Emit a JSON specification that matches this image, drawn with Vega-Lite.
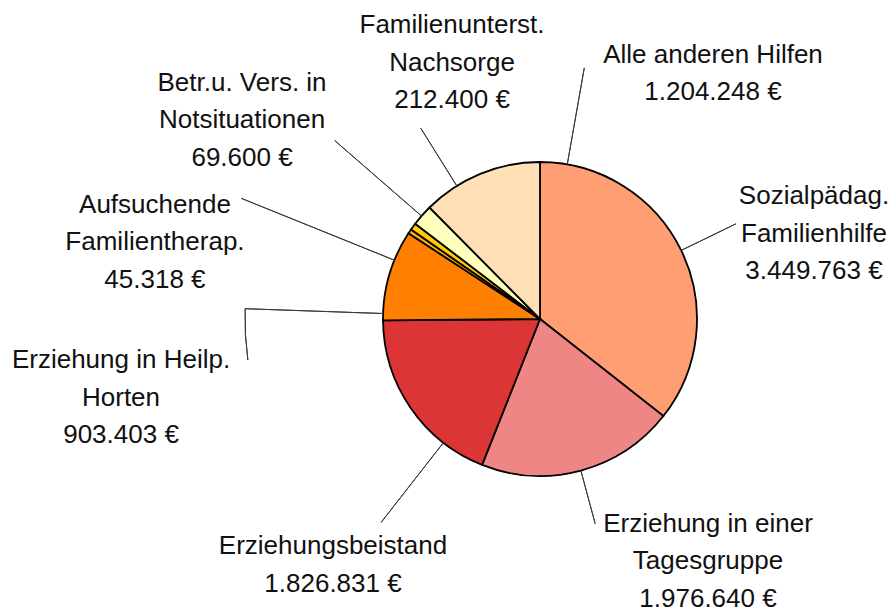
{
  "$schema": "https://vega.github.io/schema/vega-lite/v6.json",
  "width": 704,
  "height": 586,
  "autosize": {"type": "none"},
  "padding": {"left": 188, "top": 26, "right": 0, "bottom": 0},
  "background": "white",
  "config": {"view": {"stroke": null}},
  "data": {
    "values": [
      {"name": "Sozialpädag. Familienhilfe", "label": "Sozialpädag.\nFamilienhilfe\n3.449.763 €", "value": 3449763},
      {"name": "Erziehung in einer Tagesgruppe", "label": "Erziehung in einer\nTagesgruppe\n1.976.640 €", "value": 1976640},
      {"name": "Erziehungsbeistand", "label": "Erziehungsbeistand\n1.826.831 €", "value": 1826831},
      {"name": "Erziehung in Heilp. Horten", "label": "Erziehung in Heilp.\nHorten\n903.403 €", "value": 903403},
      {"name": "Aufsuchende Familientherap.", "label": "Aufsuchende\nFamilientherap.\n45.318 €", "value": 45318},
      {"name": "Betr.u. Vers. in Notsituationen", "label": "Betr.u. Vers. in\nNotsituationen\n69.600 €", "value": 69600},
      {"name": "Familienunterst. Nachsorge", "label": "Familienunterst.\nNachsorge\n212.400 €", "value": 212400},
      {"name": "Alle anderen Hilfen", "label": "Alle anderen Hilfen\n1.204.248  €", "value": 1204248}
    ]
  },
  "transform": [
    {"window": [{"op": "row_number", "as": "idx"}]},
    {"stack": "value", "groupby": [], "sort": [{"field": "idx", "order": "ascending"}], "as": ["v0", "v1"]}
  ],
  "layer": [
    {
      "mark": {"type": "arc", "outerRadius": 157, "stroke": "#000000", "strokeWidth": 1.8},
      "encoding": {
        "theta": {"field": "v1", "type": "quantitative", "stack": null, "scale": {"nice": false, "zero": true}},
        "theta2": {"field": "v0"},
        "color": {
          "field": "name", "type": "nominal", "legend": null,
          "scale": {
            "domain": ["Sozialpädag. Familienhilfe", "Erziehung in einer Tagesgruppe", "Erziehungsbeistand", "Erziehung in Heilp. Horten", "Aufsuchende Familientherap.", "Betr.u. Vers. in Notsituationen", "Familienunterst. Nachsorge", "Alle anderen Hilfen"],
            "range": ["#FF9E73", "#EF8686", "#DC3535", "#FF8000", "#FFB000", "#FFCC00", "#FFFFBE", "#FFDFB5"]
          }
        }
      }
    },
    {
      "transform": [{"filter": {"field": "name", "equal": "Sozialpädag. Familienhilfe"}}],
      "mark": {"type": "arc", "innerRadius": 157, "outerRadius": 218, "thetaOffset": 1.1186, "theta2Offset": 1.1186, "stroke": "#3a3a3a", "strokeWidth": 1, "fill": "transparent"},
      "encoding": {"theta": {"field": "v0", "type": "quantitative", "stack": null}, "theta2": {"field": "v0"}}
    },
    {
      "transform": [{"filter": {"field": "name", "equal": "Erziehung in einer Tagesgruppe"}}],
      "mark": {"type": "arc", "innerRadius": 157, "outerRadius": 212, "thetaOffset": 0.6409, "theta2Offset": 0.6409, "stroke": "#3a3a3a", "strokeWidth": 1, "fill": "transparent"},
      "encoding": {"theta": {"field": "v0", "type": "quantitative", "stack": null}, "theta2": {"field": "v0"}}
    },
    {
      "transform": [{"filter": {"field": "name", "equal": "Erziehungsbeistand"}}],
      "mark": {"type": "arc", "innerRadius": 157, "outerRadius": 258, "thetaOffset": 0.2855, "theta2Offset": 0.2855, "stroke": "#3a3a3a", "strokeWidth": 1, "fill": "transparent"},
      "encoding": {"theta": {"field": "v0", "type": "quantitative", "stack": null}, "theta2": {"field": "v0"}}
    },
    {
      "transform": [{"filter": {"field": "name", "equal": "Erziehung in Heilp. Horten"}}],
      "mark": {"type": "arc", "innerRadius": 157, "outerRadius": 295, "thetaOffset": 0.0433, "theta2Offset": 0.0433, "stroke": "#3a3a3a", "strokeWidth": 1, "fill": "transparent"},
      "encoding": {"theta": {"field": "v0", "type": "quantitative", "stack": null}, "theta2": {"field": "v0"}}
    },
    {
      "transform": [{"filter": {"field": "name", "equal": "Erziehung in Heilp. Horten"}}],
      "mark": {"type": "arc", "innerRadius": 295, "outerRadius": 295, "thetaOffset": -0.1312, "theta2Offset": 0.0433, "stroke": "#3a3a3a", "strokeWidth": 1, "fill": "transparent"},
      "encoding": {"theta": {"field": "v0", "type": "quantitative", "stack": null}, "theta2": {"field": "v0"}}
    },
    {
      "transform": [{"filter": {"field": "name", "equal": "Aufsuchende Familientherap."}}],
      "mark": {"type": "arc", "innerRadius": 157, "outerRadius": 322, "thetaOffset": -0.1936, "theta2Offset": -0.1936, "stroke": "#3a3a3a", "strokeWidth": 1, "fill": "transparent"},
      "encoding": {"theta": {"field": "v0", "type": "quantitative", "stack": null}, "theta2": {"field": "v0"}}
    },
    {
      "transform": [{"filter": {"field": "name", "equal": "Betr.u. Vers. in Notsituationen"}}],
      "mark": {"type": "arc", "innerRadius": 157, "outerRadius": 272, "thetaOffset": 0.1087, "theta2Offset": 0.1087, "stroke": "#3a3a3a", "strokeWidth": 1, "fill": "transparent"},
      "encoding": {"theta": {"field": "v0", "type": "quantitative", "stack": null}, "theta2": {"field": "v0"}}
    },
    {
      "transform": [{"filter": {"field": "name", "equal": "Familienunterst. Nachsorge"}}],
      "mark": {"type": "arc", "innerRadius": 157, "outerRadius": 225, "thetaOffset": 0.3602, "theta2Offset": 0.3602, "stroke": "#3a3a3a", "strokeWidth": 1, "fill": "transparent"},
      "encoding": {"theta": {"field": "v0", "type": "quantitative", "stack": null}, "theta2": {"field": "v0"}}
    },
    {
      "transform": [{"filter": {"field": "name", "equal": "Alle anderen Hilfen"}}],
      "mark": {"type": "arc", "innerRadius": 157, "outerRadius": 255, "thetaOffset": 0.9556, "theta2Offset": 0.9556, "stroke": "#3a3a3a", "strokeWidth": 1, "fill": "transparent"},
      "encoding": {"theta": {"field": "v0", "type": "quantitative", "stack": null}, "theta2": {"field": "v0"}}
    },
    {
      "transform": [{"filter": {"field": "name", "equal": "Sozialpädag. Familienhilfe"}}],
      "mark": {"type": "text", "radius": 157, "dx": 274, "dy": 42, "align": "center", "baseline": "alphabetic", "lineBreak": "\n", "lineHeight": 37.5, "font": "Liberation Sans", "fontSize": 26, "color": "#111111"},
      "encoding": {"theta": {"field": "v0", "type": "quantitative", "stack": null}, "text": {"field": "label"}}
    },
    {
      "transform": [{"filter": {"field": "name", "equal": "Erziehung in einer Tagesgruppe"}}],
      "mark": {"type": "text", "radius": 157, "dx": 44.6, "dy": 115.9, "align": "center", "baseline": "alphabetic", "lineBreak": "\n", "lineHeight": 37.5, "font": "Liberation Sans", "fontSize": 26, "color": "#111111"},
      "encoding": {"theta": {"field": "v0", "type": "quantitative", "stack": null}, "text": {"field": "label"}}
    },
    {
      "transform": [{"filter": {"field": "name", "equal": "Erziehungsbeistand"}}],
      "mark": {"type": "text", "radius": 157, "dx": -149.1, "dy": 89.1, "align": "center", "baseline": "alphabetic", "lineBreak": "\n", "lineHeight": 37.5, "font": "Liberation Sans", "fontSize": 26, "color": "#111111"},
      "encoding": {"theta": {"field": "v0", "type": "quantitative", "stack": null}, "text": {"field": "label"}}
    },
    {
      "transform": [{"filter": {"field": "name", "equal": "Erziehung in Heilp. Horten"}}],
      "mark": {"type": "text", "radius": 157, "dx": -262, "dy": 47.7, "align": "center", "baseline": "alphabetic", "lineBreak": "\n", "lineHeight": 37.5, "font": "Liberation Sans", "fontSize": 26, "color": "#111111"},
      "encoding": {"theta": {"field": "v0", "type": "quantitative", "stack": null}, "text": {"field": "label"}}
    },
    {
      "transform": [{"filter": {"field": "name", "equal": "Aufsuchende Familientherap."}}],
      "mark": {"type": "text", "radius": 157, "dx": -253.5, "dy": -20.3, "align": "center", "baseline": "alphabetic", "lineBreak": "\n", "lineHeight": 37.5, "font": "Liberation Sans", "fontSize": 26, "color": "#111111"},
      "encoding": {"theta": {"field": "v0", "type": "quantitative", "stack": null}, "text": {"field": "label"}}
    },
    {
      "transform": [{"filter": {"field": "name", "equal": "Betr.u. Vers. in Notsituationen"}}],
      "mark": {"type": "text", "radius": 157, "dx": -169, "dy": -138.5, "align": "center", "baseline": "alphabetic", "lineBreak": "\n", "lineHeight": 37.5, "font": "Liberation Sans", "fontSize": 26, "color": "#111111"},
      "encoding": {"theta": {"field": "v0", "type": "quantitative", "stack": null}, "text": {"field": "label"}}
    },
    {
      "transform": [{"filter": {"field": "name", "equal": "Familienunterst. Nachsorge"}}],
      "mark": {"type": "text", "radius": 157, "dx": 36.8, "dy": -190.7, "align": "center", "baseline": "alphabetic", "lineBreak": "\n", "lineHeight": 37.5, "font": "Liberation Sans", "fontSize": 26, "color": "#111111"},
      "encoding": {"theta": {"field": "v0", "type": "quantitative", "stack": null}, "text": {"field": "label"}}
    },
    {
      "transform": [{"filter": {"field": "name", "equal": "Alle anderen Hilfen"}}],
      "mark": {"type": "text", "radius": 157, "dx": 283.5, "dy": -144.5, "align": "center", "baseline": "alphabetic", "lineBreak": "\n", "lineHeight": 37.5, "font": "Liberation Sans", "fontSize": 26, "color": "#111111"},
      "encoding": {"theta": {"field": "v0", "type": "quantitative", "stack": null}, "text": {"field": "label"}}
    }
  ]
}
